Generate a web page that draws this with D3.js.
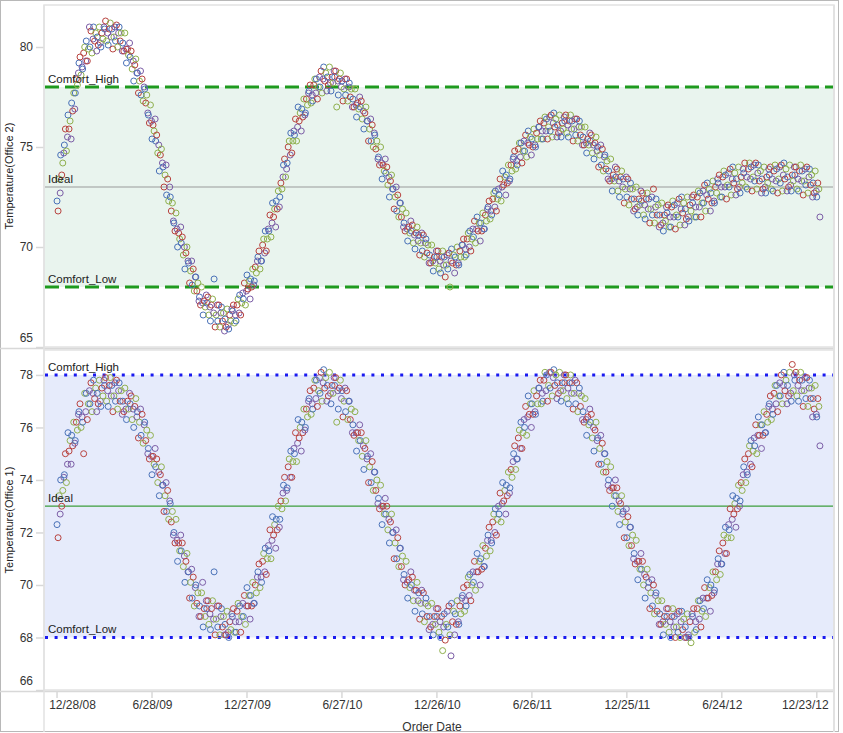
<!DOCTYPE html>
<html><head><meta charset="utf-8">
<script src="https://cdn.jsdelivr.net/npm/d3@7"></script>
<style>
html,body{margin:0;padding:0;background:#fff;}
svg{display:block;font-family:"Liberation Sans",Arial,sans-serif;}
</style></head>
<body><svg id="chart" width="843" height="733"></svg>
<script>
// ---- data ----
const startWeek = "2008-12-28";
const seriesNames = ["A","B","C","D"];
const seriesColors = ["#4a72b8","#b8433f","#8fb04e","#7b5da6"];
const dayOffsets = [0,2,4,6];
const tickDates = ["2008-12-28","2009-06-28","2009-12-27","2010-06-27","2010-12-26","2011-06-26","2011-12-25","2012-06-24","2012-12-23"];
const office2Ticks = [65,70,75,80];
const office1Ticks = [66,68,70,72,74,76,78];
const refNames = ["Comfort_High","Ideal","Comfort_Low"];
const refValues = [78,73,68];

// weekly readings, one column per series [A,B,C,D]
const office2Readings = [
[72.3,71.8,73.4,72.7],[74.6,73.6,74.2,74.7],[75.1,75.9,74.8,75.5],[76.6,75.9,76.3,75.4],[77.2,76.8,77.7,76.9],
[77.7,78.4,78.1,78.7],[79.2,79.5,78.6,79.0],[78.9,79.7,80.0,79.3],[80.3,79.3,79.9,81.0],[80.0,80.8,79.7,80.4],
[81.0,80.3,80.7,79.8],[80.5,80.1,81.0,80.2],[80.0,80.7,80.4,81.0],[80.9,81.3,80.3,80.7],[80.1,80.9,81.2,80.5],
[80.9,79.9,80.5,81.0],[80.3,81.1,80.0,80.7],[81.0,80.3,80.7,79.8],[80.2,79.8,80.7,79.9],[79.2,79.9,79.6,80.2],
[79.5,79.8,78.9,79.3],[78.3,79.1,79.4,78.7],[78.7,77.7,78.3,78.8],[77.6,78.4,77.3,78.0],[77.9,77.2,77.6,76.7],
[76.6,76.2,77.1,76.3],[75.4,76.1,75.8,76.4],[75.3,75.6,74.7,75.1],[73.8,74.6,74.9,74.2],[74.0,73.0,73.6,74.1],
[72.6,73.4,72.3,73.0],[72.5,71.8,72.2,71.3],[71.2,70.8,71.7,70.9],[70.0,70.7,70.4,71.0],[70.2,70.5,69.6,70.0],
[68.9,69.7,70.0,69.3],[69.2,68.2,68.8,69.3],[68.1,68.9,67.8,68.5],[68.5,67.8,68.2,67.3],[67.5,67.1,68.0,67.2],
[66.6,67.3,67.0,67.6],[67.2,67.5,66.6,67.0],[66.3,67.1,67.4,66.7],[68.4,66.0,66.6,67.1],[66.3,67.1,66.0,66.7],
[67.0,66.3,66.7,65.8],[66.4,66.0,66.9,66.1],[65.9,66.6,66.3,66.9],[66.8,67.1,66.2,66.6],[66.3,67.1,67.4,66.7],
[67.6,66.6,67.2,67.7],[67.4,68.2,67.1,67.8],[68.6,67.9,68.3,67.4],[68.4,68.0,68.9,68.1],[68.3,69.0,68.7,69.3],
[69.5,69.8,68.9,69.3],[69.3,70.1,70.4,69.7],[70.8,69.8,70.4,70.9],[70.8,71.6,70.5,71.2],[72.2,71.5,71.9,71.0],
[72.3,71.9,72.8,72.0],[72.5,73.2,72.9,73.5],[74.1,74.4,73.5,73.9],[74.2,75.0,75.3,74.6],[75.7,74.7,75.3,75.8],
[75.6,76.4,75.3,76.0],[77.0,76.3,76.7,75.8],[76.9,76.5,77.4,76.6],[76.7,77.4,77.1,77.7],[77.8,78.1,77.2,77.6],
[77.3,78.1,78.4,77.7],[78.4,77.4,78.0,78.5],[78.0,78.8,77.7,78.4],[79.0,78.3,78.7,77.8],[78.5,78.1,79.0,78.2],
[77.8,78.5,78.2,78.8],[78.5,78.8,77.0,78.3],[77.6,78.4,78.7,78.0],[78.3,77.3,77.9,78.4],[77.6,78.4,77.3,78.0],
[78.2,77.5,77.9,77.0],[77.4,77.0,77.9,77.1],[76.5,77.2,76.9,77.5],[77.0,77.3,76.4,76.8],[75.9,76.7,77.0,76.3],
[76.3,75.3,75.9,76.4],[75.3,76.1,75.0,75.7],[75.6,74.9,75.3,74.4],[74.5,74.1,75.0,74.2],[73.4,74.1,73.8,74.4],
[73.7,74.0,73.1,73.5],[72.5,73.3,73.6,72.9],[72.9,71.9,72.5,73.0],[71.8,72.6,71.5,72.2],[72.2,71.5,71.9,71.0],
[71.2,70.8,71.7,70.9],[70.3,71.0,70.7,71.3],[70.8,71.1,70.2,70.6],[69.9,70.7,71.0,70.3],[70.6,69.6,70.2,70.7],
[69.8,70.6,69.5,70.2],[70.4,69.7,70.1,69.2],[69.6,69.2,70.1,69.3],[68.8,69.5,69.2,69.8],[69.5,69.8,68.9,69.3],
[68.7,69.5,69.8,69.1],[69.5,68.5,69.1,69.6],[68.9,69.7,68.0,69.3],[69.9,69.2,69.6,68.7],[69.5,69.1,70.0,69.2],
[69.1,69.8,69.5,70.1],[70.1,70.4,69.5,69.9],[69.6,70.4,70.7,70.0],[70.8,69.8,70.4,70.9],[70.5,71.3,70.2,70.9],
[71.5,70.8,71.2,70.3],[71.2,70.8,71.7,70.9],[70.9,71.6,71.3,71.9],[72.0,72.3,71.4,71.8],[71.6,72.4,72.7,72.0],
[72.8,71.8,72.4,72.9],[72.6,73.4,72.3,73.0],[73.8,73.1,73.5,72.6],[73.6,73.2,74.1,73.3],[73.4,74.1,73.8,74.4],
[74.5,74.8,73.9,74.3],[74.1,74.9,75.2,74.5],[75.2,74.2,74.8,75.3],[74.8,75.6,74.5,75.2],[75.8,75.1,75.5,74.6],
[75.4,75.0,75.9,75.1],[75.0,75.7,75.4,76.0],[76.0,76.3,75.4,75.8],[75.4,76.2,76.5,75.8],[76.4,75.4,76.0,76.5],
[75.8,76.6,75.5,76.2],[76.7,76.0,76.4,75.5],[76.1,75.7,76.6,75.8],[75.5,76.2,75.9,76.5],[76.3,76.6,75.7,76.1],
[75.5,76.3,76.6,75.9],[76.3,75.3,75.9,76.4],[75.6,76.4,75.3,76.0],[76.3,75.6,76.0,75.1],[75.5,75.1,76.0,75.2],
[74.7,75.4,75.1,75.7],[75.3,75.6,74.7,75.1],[74.4,75.2,75.5,74.8],[75.0,74.0,74.6,75.1],[74.1,74.9,73.8,74.5],
[74.6,73.9,74.3,73.4],[73.8,73.3,74.4,73.4],[72.8,73.6,73.3,74.0],[73.5,73.9,72.8,73.3],[72.5,73.5,73.8,73.0],
[73.4,72.2,72.9,73.5],[72.5,73.4,72.1,72.9],[73.2,72.4,72.9,71.8],[72.4,71.9,73.0,72.0],[71.6,72.4,72.1,72.8],
[72.3,72.7,71.6,72.1],[71.4,72.4,72.7,71.9],[72.4,71.2,71.9,72.5],[71.6,72.9,71.2,72.0],[72.4,71.6,72.1,71.0],
[71.6,71.1,72.2,71.2],[70.8,71.6,71.3,72.0],[71.7,72.1,71.0,71.5],[71.0,72.0,72.3,71.5],[72.1,70.9,71.6,72.2],
[71.5,72.4,71.1,71.9],[72.5,71.7,72.2,71.1],[71.9,71.4,72.5,71.5],[71.3,72.1,71.8,72.5],[72.2,72.6,71.5,72.0],
[71.5,72.5,72.8,72.0],[72.7,71.5,72.2,72.8],[72.2,73.1,71.8,72.6],[73.2,72.4,72.9,71.8],[72.7,72.2,73.3,72.3],
[72.2,73.0,72.7,73.4],[73.2,73.6,72.5,73.0],[72.5,73.5,73.8,73.0],[73.6,72.4,73.1,73.7],[73.0,73.9,72.6,73.4],
[74.0,73.2,73.7,72.6],[73.4,72.9,74.0,73.0],[72.7,73.5,73.2,73.9],[73.7,74.2,73.0,73.5],[72.9,73.9,74.2,73.4],
[74.0,72.8,73.5,74.1],[73.3,74.2,72.9,73.7],[74.1,73.3,73.8,72.7],[73.4,72.9,74.0,73.0],[72.7,73.5,73.2,73.9],
[73.6,74.0,72.9,73.4],[72.8,73.8,74.1,73.3],[73.9,72.7,73.4,74.0],[73.2,74.1,72.8,73.6],[74.2,73.4,73.9,72.8],
[73.5,73.0,74.1,73.1],[72.8,73.6,73.3,74.0],[73.6,74.0,72.9,73.4],[72.8,73.8,74.1,73.3],[73.8,72.6,73.3,73.9],
[73.1,74.0,72.7,73.5],[73.9,73.1,73.6,72.5],[73.2,72.7,73.8,72.8],[72.5,73.2,72.9,71.5]
];

const office1Readings = [
[72.3,71.8,73.4,72.7],[74.0,73.0,73.6,74.1],[74.2,75.0,73.9,74.6],[75.8,75.1,75.5,74.6],[75.7,75.3,76.2,75.4],
[75.5,76.2,75.9,76.5],[76.6,76.9,76.0,76.4],[76.2,75.0,77.3,76.6],[77.3,76.3,76.9,77.4],[76.9,77.7,76.6,77.3],
[77.8,77.1,77.5,76.6],[77.3,76.9,77.8,77.0],[76.8,77.5,77.2,77.8],[77.6,77.9,77.0,77.4],[76.8,77.6,77.9,77.2],
[77.6,76.6,77.2,77.7],[77.0,77.8,76.7,77.4],[77.7,77.0,77.4,76.5],[77.0,76.6,77.5,76.7],[76.3,77.0,76.7,77.3],
[76.9,77.2,76.3,76.7],[76.0,76.8,77.1,76.4],[76.6,75.6,76.2,76.7],[75.7,76.5,75.4,76.1],[76.2,75.5,75.9,75.0],
[75.2,74.8,75.7,74.9],[74.2,74.9,74.6,75.2],[74.5,74.8,73.9,74.3],[73.4,74.2,74.5,73.8],[73.8,72.8,73.4,73.9],
[72.8,73.6,72.5,73.2],[73.1,72.4,72.8,71.9],[72.0,71.6,72.5,71.7],[70.9,71.6,71.3,71.9],[71.3,71.6,70.7,71.1],
[70.1,70.9,71.2,70.5],[70.5,69.5,70.1,70.6],[69.5,70.3,69.2,69.9],[70.0,69.3,69.7,68.8],[69.2,68.8,69.7,70.1],
[68.4,69.1,68.8,69.4],[69.1,69.4,68.5,68.9],[68.3,69.1,69.4,68.7],[70.5,68.1,68.7,69.2],[68.4,69.2,68.1,68.8],
[69.1,68.4,68.8,68.1],[68.5,68.1,69.0,68.2],[68.0,68.6,68.3,68.9],[68.8,69.1,68.2,68.6],[68.2,69.0,69.3,68.6],
[69.2,68.2,68.8,69.3],[68.8,69.6,68.5,69.2],[69.9,69.2,69.6,68.7],[69.6,69.2,70.1,69.3],[69.3,70.0,69.7,70.3],
[70.5,70.8,69.9,70.3],[70.1,70.9,71.2,70.5],[71.4,70.4,71.0,71.5],[71.3,72.1,71.0,71.7],[72.6,71.9,72.3,71.4],
[72.5,72.1,73.0,72.2],[72.5,73.2,72.9,73.5],[73.8,74.1,73.2,73.6],[73.7,74.5,74.8,74.1],[75.1,74.1,74.7,75.2],
[75.0,75.8,74.7,75.4],[76.3,75.6,76.0,75.1],[76.2,75.8,76.7,75.9],[76.0,76.7,76.4,77.0],[77.1,77.4,76.5,76.9],
[76.7,77.5,77.8,77.1],[77.8,76.8,77.4,77.9],[77.3,78.1,77.0,77.7],[78.2,77.5,77.9,77.0],[77.6,77.2,78.1,77.3],
[76.9,77.6,77.3,77.9],[77.6,77.9,76.2,77.4],[76.7,77.5,77.8,77.1],[77.4,76.4,77.0,77.5],[76.6,77.4,76.3,77.0],
[77.0,76.3,76.7,75.8],[76.1,75.7,76.6,75.8],[75.1,75.8,75.5,76.1],[75.5,75.8,74.9,75.3],[74.4,75.2,75.5,74.8],
[74.9,73.9,74.5,75.0],[73.9,74.7,73.6,74.3],[74.3,73.6,74.0,73.1],[73.3,72.9,73.8,73.0],[72.3,73.0,72.7,73.3],
[72.7,73.0,72.1,72.5],[71.6,72.4,72.7,72.0],[72.0,71.0,71.6,72.1],[71.0,71.8,70.7,71.4],[71.4,70.7,71.1,70.2],
[70.4,70.0,70.9,70.1],[69.5,70.2,69.9,70.5],[70.0,70.3,69.4,69.8],[69.0,69.8,70.1,69.4],[69.7,68.7,69.3,69.8],
[68.9,69.7,68.6,69.3],[69.5,68.8,69.2,68.3],[68.8,68.4,69.3,68.5],[68.1,68.8,68.5,69.1],[68.8,69.1,68.2,68.6],
[68.0,68.8,67.5,68.4],[68.9,67.9,68.5,69.0],[68.4,69.2,68.1,67.3],[69.3,68.6,69.0,68.1],[68.9,68.5,69.4,68.6],
[68.5,69.2,68.9,69.5],[69.6,69.9,69.0,69.4],[69.2,70.0,70.3,69.6],[70.4,69.4,70.0,70.5],[70.1,70.9,69.8,70.5],
[71.2,70.5,70.9,70.0],[71.0,70.6,71.5,70.7],[70.7,71.4,71.1,71.7],[71.9,72.2,71.3,71.7],[71.6,72.4,72.7,72.0],
[72.9,71.9,72.5,73.0],[72.7,73.5,72.4,73.1],[73.9,73.2,73.6,72.7],[73.8,73.4,74.3,73.5],[73.7,74.4,74.1,74.7],
[75.0,75.3,74.4,74.8],[74.8,75.6,75.9,75.2],[76.2,75.2,75.8,76.3],[76.0,76.8,75.7,76.4],[77.2,76.5,76.9,76.0],
[76.9,76.5,77.4,76.6],[76.5,77.2,76.9,77.5],[77.5,77.8,76.9,77.3],[77.0,77.8,78.1,77.4],[78.0,77.0,77.6,78.1],
[77.5,78.1,77.2,77.9],[78.2,77.6,78.0,77.1],[77.7,77.3,78.1,77.4],[77.0,77.7,77.4,78.0],[77.7,78.0,77.1,77.5],
[76.9,77.7,78.0,77.3],[77.7,76.7,77.3,77.8],[76.9,77.7,76.6,77.3],[77.5,76.8,77.2,76.3],[76.6,76.2,77.1,76.3],
[75.7,76.4,76.1,76.7],[76.2,76.5,75.6,76.0],[75.1,75.9,76.2,75.5],[75.6,74.6,75.2,75.7],[74.6,75.4,74.3,75.0],
[75.0,74.3,74.7,73.8],[74.0,73.6,74.5,73.7],[73.0,73.7,73.4,74.0],[73.4,73.7,72.8,73.2],[72.3,73.1,73.4,72.7],
[72.8,71.8,72.4,72.9],[71.8,72.6,71.5,72.2],[72.2,71.5,71.9,71.0],[71.2,70.8,71.7,70.9],[70.2,70.9,70.6,71.2],
[70.6,70.9,70.0,70.4],[69.5,70.3,70.6,69.9],[70.1,69.1,69.7,70.2],[69.2,70.0,68.9,69.6],[69.7,69.0,69.4,68.5],
[68.9,68.5,69.4,68.6],[68.1,68.8,68.5,69.1],[68.8,69.1,68.2,68.6],[68.0,68.8,69.1,68.4],[68.8,68.0,68.4,68.9],
[68.2,69.0,68.0,68.6],[69.0,68.3,68.7,68.0],[68.4,68.0,68.9,68.1],[68.0,68.6,67.8,68.9],[68.8,69.1,68.2,68.6],
[68.3,69.1,69.4,68.7],[69.4,68.4,69.0,69.5],[69.1,69.9,68.8,69.5],[70.2,69.5,69.9,69.0],[70.0,69.6,70.5,69.7],
[69.8,70.5,70.2,70.8],[71.0,71.3,70.4,70.8],[70.8,71.6,71.9,71.2],[72.2,71.2,71.8,72.3],[72.1,72.9,71.8,72.5],
[73.4,72.7,73.1,72.2],[73.3,72.9,73.8,73.0],[73.2,73.9,73.6,74.2],[74.5,74.8,73.9,74.3],[74.2,75.0,75.3,74.6],
[75.5,74.5,75.1,75.6],[75.3,76.1,75.0,75.7],[76.4,75.7,76.1,75.2],[76.1,75.7,76.6,75.8],[75.8,76.5,76.2,76.8],
[76.9,77.2,76.3,76.7],[76.5,77.3,77.6,76.9],[77.6,76.6,77.2,77.7],[77.2,78.0,76.9,77.6],[78.1,77.4,77.8,76.9],
[77.6,77.2,78.1,77.3],[77.0,78.4,77.4,78.0],[77.8,78.1,77.2,77.6],[77.0,77.8,78.1,77.4],[77.8,76.8,77.4,77.9],
[77.1,77.9,76.8,77.5],[77.8,77.1,77.5,76.4],[77.1,76.7,77.6,76.5],[76.4,77.1,76.8,75.3]
];

// ---- layout ----
const plotL = 44, plotR = 834;
const panels = [
  {title:"Temperature(Office 2)", readings:office2Readings, ticks:office2Ticks, domain:[65,82.1], top:5, bottom:347,
   band:"#e9f4ee", refColor:"#1e9a1e", refDash:"14,6", refWidth:3, idealColor:"#9a9a9a"},
  {title:"Temperature(Office 1)", readings:office1Readings, ticks:office1Ticks, domain:[66,78.95], top:350, bottom:690,
   band:"#e6ebfb", refColor:"#1a1af0", refDash:"3,6.6", refWidth:3, idealColor:"#3c9e3c"}
];

const svg = d3.select("#chart");
const parse = d3.timeParse("%Y-%m-%d");
const t0 = parse(startWeek);
const ticks = tickDates.map(parse);
const x = d3.scaleTime()
  .domain([d3.timeDay.offset(ticks[0], -25), d3.timeDay.offset(ticks[ticks.length-1], 33)])
  .range([plotL, plotR]);

svg.append("rect").attr("x",0.5).attr("y",0.5).attr("width",838).attr("height",731)
  .attr("fill","#fff").attr("stroke","#b8b8b8");

panels.forEach(p => {
  const y = d3.scaleLinear().domain(p.domain).range([p.bottom, p.top]);
  const g = svg.append("g");
  g.append("rect").attr("x",plotL).attr("width",plotR-plotL)
    .attr("y",y(refValues[0])).attr("height",y(refValues[2])-y(refValues[0]))
    .attr("fill",p.band);
  g.append("rect").attr("x",plotL).attr("y",p.top).attr("width",plotR-plotL).attr("height",p.bottom-p.top)
    .attr("fill","none").attr("stroke","#e2e2e2").attr("stroke-width",1.5);
  const ax = g.append("g").attr("transform",`translate(${plotL},0)`)
    .call(d3.axisLeft(y).tickValues(p.ticks).tickSize(8).tickPadding(3).tickFormat(d3.format("d")));
  ax.select(".domain").remove();
  ax.selectAll(".tick line").attr("stroke","#d8d8d8").attr("stroke-width",1.5);
  ax.selectAll(".tick text").attr("fill","#333").style("font-size","12px")
    .attr("transform", d => {
      const yy = y(d);
      if (yy > p.bottom - 9) return `translate(0,${p.bottom - 9 - yy})`;
      return null;
    });
  g.append("text").attr("transform",`translate(13,${(p.top+p.bottom)/2}) rotate(-90)`)
    .attr("text-anchor","middle").style("font-size","11px").attr("fill","#222").text(p.title);
  refValues.forEach((v,i) => {
    const ideal = refNames[i] === "Ideal";
    g.append("line").attr("x1",plotL+1).attr("x2",plotR).attr("y1",y(v)).attr("y2",y(v))
      .attr("stroke", ideal ? p.idealColor : p.refColor)
      .attr("stroke-width", ideal ? 1.2 : p.refWidth)
      .attr("stroke-dasharray", ideal ? null : p.refDash);
  });
  const pts = [];
  p.readings.forEach((row, w) => {
    row.forEach((v, s) => {
      pts.push({date: d3.timeDay.offset(t0, w*7 + dayOffsets[s]), value: v, s});
    });
  });
  g.append("g").selectAll("circle").data(pts).join("circle")
    .attr("cx", d => x(d.date)).attr("cy", d => y(d.value)).attr("r", 3)
    .attr("fill","none").attr("stroke", d => seriesColors[d.s]).attr("stroke-width",1);
  refValues.forEach((v,i) => {
    g.append("text").attr("x",plotL+4).attr("y",y(v)-4)
      .style("font-size","11.5px").attr("fill","#222").text(refNames[i]);
  });
});

svg.append("line").attr("x1",0).attr("x2",plotR).attr("y1",348.5).attr("y2",348.5)
  .attr("stroke","#d8d8d8").attr("stroke-width",1.5);

const xg = svg.append("g").attr("transform","translate(0,691)")
  .call(d3.axisBottom(x).tickValues(ticks).tickSize(0).tickPadding(0).tickFormat(d3.timeFormat("%-m/%-d/%y")));
xg.select(".domain").remove();
svg.append("line").attr("x1",0).attr("x2",plotR).attr("y1",691.5).attr("y2",691.5).attr("stroke","#d8d8d8").attr("stroke-width",1.5);
svg.append("line").attr("x1",plotL).attr("x2",plotL).attr("y1",5).attr("y2",732).attr("stroke","#e2e2e2").attr("stroke-width",1.5);
svg.append("line").attr("x1",plotR).attr("x2",plotR).attr("y1",5).attr("y2",732).attr("stroke","#e2e2e2").attr("stroke-width",2);
ticks.forEach(t => {
  svg.append("line").attr("x1",x(t)).attr("x2",x(t)).attr("y1",691).attr("y2",698).attr("stroke","#d8d8d8").attr("stroke-width",1.5);
});
xg.selectAll(".tick text").attr("fill","#333").style("font-size","12px").attr("dy",null).attr("y",18)
  .attr("dx", (d,i) => i===0 ? 15 : (i===ticks.length-1 ? -12 : 0));
svg.append("text").attr("x",(plotL+plotR)/2 - 7).attr("y",731).attr("text-anchor","middle")
  .style("font-size","12px").attr("fill","#333").text("Order Date");
</script>
</body></html>
